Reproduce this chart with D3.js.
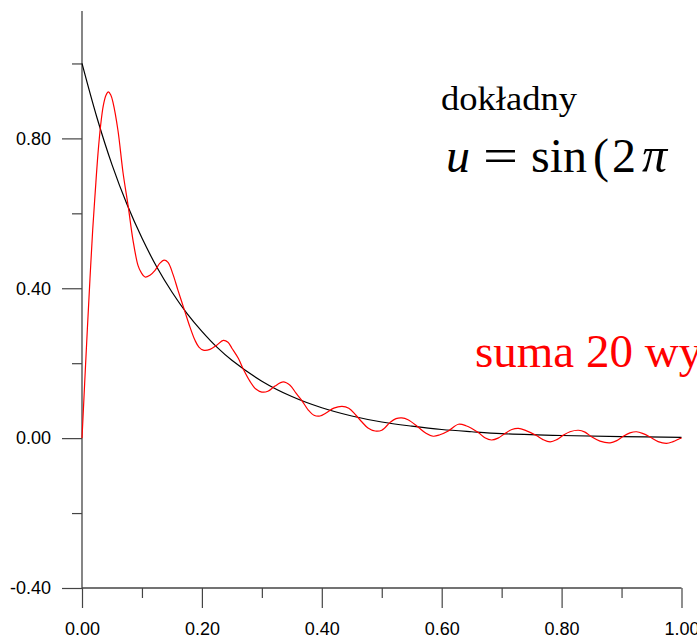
<!DOCTYPE html>
<html>
<head>
<meta charset="utf-8">
<script src="https://cdn.jsdelivr.net/npm/d3@7"></script>
<style>
  html, body { margin: 0; padding: 0; background: #fff; overflow: hidden; }
  svg { display: block; }
</style>
</head>
<body>
<svg id="chart" width="697" height="638"></svg>
<script>
// exact solution (black)
const exactX = [0, 0.025, 0.05, 0.075, 0.1, 0.125, 0.15, 0.175, 0.2, 0.225, 0.25, 0.3, 0.35, 0.4,
  0.45, 0.5, 0.55, 0.6, 0.65, 0.7, 0.8, 0.9, 1.0];
const exactY = [1.000, 0.855, 0.730, 0.624, 0.534, 0.456, 0.390, 0.333, 0.285, 0.243, 0.208, 0.152,
  0.111, 0.081, 0.059, 0.043, 0.032, 0.023, 0.017, 0.012, 0.007, 0.004, 0.002];

// partial sum of 20 terms (red)
const sumX = [0, 0.0044, 0.0089, 0.0133, 0.0178, 0.0222, 0.0267, 0.0311, 0.0356, 0.0400, 0.0439,
  0.0480, 0.0517, 0.0600, 0.0684, 0.0772, 0.0851, 0.0934, 0.0984, 0.1051, 0.1134, 0.1218, 0.1300,
  0.1368, 0.1435, 0.1518, 0.1600, 0.1718, 0.1800, 0.1885, 0.1950, 0.2023, 0.2135, 0.2247, 0.2357,
  0.2435, 0.2500, 0.2607, 0.2700, 0.2800, 0.2900, 0.3000, 0.3100, 0.3219, 0.3358, 0.3470, 0.3570,
  0.3665, 0.3775, 0.3870, 0.3970, 0.4070, 0.4200, 0.4337, 0.4450, 0.4570, 0.4670, 0.4770, 0.4890,
  0.5000, 0.5140, 0.5238, 0.5333, 0.5438, 0.5610, 0.5738, 0.5860, 0.5970, 0.6110, 0.6280, 0.6405,
  0.6610, 0.6720, 0.6830, 0.6940, 0.7056, 0.7170, 0.7280, 0.7406, 0.7580, 0.7690, 0.7810, 0.7920,
  0.8030, 0.8140, 0.8280, 0.8390, 0.8500, 0.8640, 0.8810, 0.8920, 0.9030, 0.9140, 0.9250, 0.9360,
  0.9470, 0.9610, 0.9750, 0.9860, 0.9975, 1.0000];
const sumY = [0, 0.145, 0.290, 0.425, 0.555, 0.660, 0.760, 0.835, 0.888, 0.915, 0.924,
  0.916, 0.896, 0.821, 0.709, 0.617, 0.528, 0.461, 0.443, 0.430, 0.435, 0.448, 0.467,
  0.475, 0.469, 0.437, 0.395, 0.337, 0.297, 0.261, 0.243, 0.235, 0.237, 0.248, 0.261,
  0.256, 0.240, 0.213, 0.181, 0.152, 0.131, 0.123, 0.125, 0.139, 0.150, 0.141, 0.120,
  0.101, 0.075, 0.061, 0.059, 0.067, 0.080, 0.085, 0.080, 0.061, 0.043, 0.027, 0.019,
  0.021, 0.042, 0.052, 0.054, 0.049, 0.029, 0.013, 0.005, 0.009, 0.019, 0.037, 0.033,
  0.015, 0.001, -0.005, 0.000, 0.0125, 0.023, 0.026, 0.020, 0.007, -0.004, -0.010, -0.004,
  0.008, 0.017, 0.021, 0.016, 0.0035, -0.008, -0.0125, -0.0067, 0.0053, 0.014, 0.017, 0.012,
  0.0035, -0.0093, -0.014, -0.0093, -0.001, 0.000];

const xMajorTicks = [0, 0.2, 0.4, 0.6, 0.8, 1.0];
const xMinorTicks = [0.1, 0.3, 0.5, 0.7, 0.9];
const yMajorTicks = [-0.4, 0, 0.4, 0.8];
const yMinorTicks = [-0.2, 0.2, 0.6, 1.0];

const svg = d3.select("#chart");

const x = d3.scaleLinear().domain([0, 1]).range([82, 681.5]);
const y = d3.scaleLinear().domain([-0.4, 1.14]).range([588, 11]);

// plain hyphen for negatives, two decimals
const fmt = d => d.toFixed(2);
const axisColor = "#444";
const tickFont = "'Liberation Sans', Arial, sans-serif";

function styleAxis(g) {
  g.select(".domain").remove();
  g.selectAll(".tick line").attr("stroke", axisColor).attr("stroke-width", 1.2);
  g.selectAll(".tick text").attr("fill", "#000").style("font-family", tickFont).style("font-size", "18px");
}

// x axis
svg.append("g")
  .attr("transform", `translate(0,${y(-0.4)})`)
  .call(d3.axisBottom(x).tickValues(xMajorTicks).tickSize(20).tickSizeOuter(0).tickPadding(14).tickFormat(fmt))
  .call(styleAxis);
svg.append("g")
  .attr("transform", `translate(0,${y(-0.4)})`)
  .call(d3.axisBottom(x).tickValues(xMinorTicks).tickSize(10).tickSizeOuter(0).tickFormat(""))
  .call(styleAxis);

// y axis
svg.append("g")
  .attr("transform", `translate(${x(0)},0)`)
  .call(d3.axisLeft(y).tickValues(yMajorTicks).tickSize(20).tickSizeOuter(0).tickPadding(11).tickFormat(fmt))
  .call(styleAxis);
svg.append("g")
  .attr("transform", `translate(${x(0)},0)`)
  .call(d3.axisLeft(y).tickValues(yMinorTicks).tickSize(10).tickSizeOuter(0).tickFormat(""))
  .call(styleAxis);

// axis lines
svg.append("line")
  .attr("x1", x(0)).attr("x2", x(1))
  .attr("y1", y(-0.4)).attr("y2", y(-0.4))
  .attr("stroke", axisColor).attr("stroke-width", 1.3);
svg.append("line")
  .attr("x1", x(0)).attr("x2", x(0))
  .attr("y1", y(-0.4)).attr("y2", y(1.14))
  .attr("stroke", axisColor).attr("stroke-width", 1.3);

// curves
const line = d3.line().x(d => x(d[0])).y(d => y(d[1])).curve(d3.curveCatmullRom.alpha(0.5));

svg.append("path")
  .datum(exactX.map((v, i) => [v, exactY[i]]))
  .attr("d", line)
  .attr("fill", "none").attr("stroke", "#000").attr("stroke-width", 1.2);

svg.append("path")
  .datum(sumX.map((v, i) => [v, sumY[i]]))
  .attr("d", line)
  .attr("fill", "none").attr("stroke", "#ff0000").attr("stroke-width", 1.2);

// annotations
const serif = "'Liberation Serif', 'Times New Roman', serif";

svg.append("text")
  .attr("x", 441).attr("y", 110)
  .attr("textLength", 136).attr("lengthAdjust", "spacingAndGlyphs")
  .style("font-family", serif).style("font-size", "33px").attr("fill", "#000")
  .text("dokładny");

const math = svg.append("g").style("font-family", serif).style("font-size", "48px").attr("fill", "#000");
math.append("text").attr("x", 446).attr("y", 172).style("font-style", "italic").text("u");
math.append("text").attr("x", 483).attr("y", 172)
  .attr("textLength", 35).attr("lengthAdjust", "spacingAndGlyphs").text("=");
math.append("text").attr("x", 531).attr("y", 172).text("sin");
math.append("text").attr("x", 593).attr("y", 172).text("(");
math.append("text").attr("x", 612).attr("y", 172).text("2");
math.append("text").attr("x", 642).attr("y", 172).style("font-style", "italic").style("font-size", "50px").text("π");

svg.append("text")
  .attr("x", 475).attr("y", 367)
  .style("font-family", serif).style("font-size", "47px").attr("fill", "#ff0000")
  .text("suma 20 wyrazów");
</script>
</body>
</html>
